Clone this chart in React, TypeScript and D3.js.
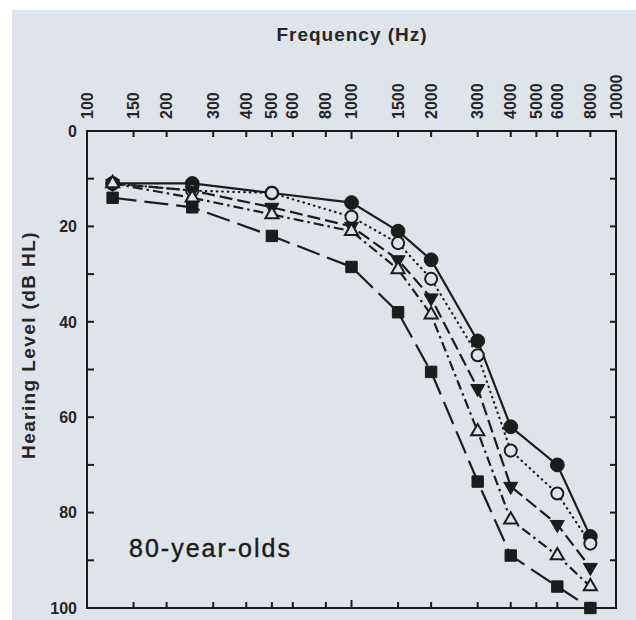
import { useEffect, useRef } from "react";
import * as d3 from "d3";

// audiogram, 80-year-olds, five groups
const frequencies = [125, 250, 500, 1000, 1500, 2000, 3000, 4000, 6000, 8000];
const filledCircle = [11, 11, 13, 15, 21, 27, 44, 62, 70, 85];
const openCircle = [11, 12.5, 13, 18, 23.5, 31, 47, 67, 76, 86.5];
const filledTriangle = [11, 12.5, 16, 20, 27, 35, 54, 74.5, 82.5, 91.5];
const openTriangle = [11, 14, 17.5, 21, 29, 38.5, 63, 81.5, 89, 95.5];
const filledSquare = [14, 16, 22, 28.5, 38, 50.5, 73.5, 89, 95.5, 100];

const freqTicks = [100, 150, 200, 300, 400, 500, 600, 800, 1000, 1500, 2000, 3000, 4000, 5000, 6000, 8000, 10000];
const levelLabels = [0, 20, 40, 60, 80, 100];
const levelTicks = [10, 20, 30, 40, 50, 60, 70, 80, 90];

const PAPER = "#dfe3ea";
const INK = "#1c1c1c";
const TEXT = "#262626";
const FONT = "'Liberation Sans', Arial, sans-serif";

const Audiogram = () => {
  const ref = useRef<SVGSVGElement>(null);

  useEffect(() => {
    const width = 636;
    const height = 620;
    const svg = d3.select(ref.current);
    svg.selectAll("*").remove();

    const x = d3.scaleLog().domain([100, 10000]).range([87, 616]);
    const y = d3.scaleLinear().domain([0, 100]).range([131, 608]);

    // scanned page
    svg.append("rect").attr("width", width).attr("height", height).attr("fill", "#ffffff");
    svg.append("rect")
      .attr("x", 12).attr("y", 10)
      .attr("width", width - 12).attr("height", height - 10)
      .attr("fill", PAPER);

    svg.append("text")
      .attr("x", 352).attr("y", 41)
      .attr("text-anchor", "middle")
      .attr("font-family", FONT)
      .attr("font-weight", "bold")
      .attr("font-size", 19)
      .attr("letter-spacing", 1)
      .attr("fill", TEXT)
      .text("Frequency (Hz)");

    svg.append("text")
      .attr("transform", "translate(35,345) rotate(-90)")
      .attr("text-anchor", "middle")
      .attr("font-family", FONT)
      .attr("font-weight", "bold")
      .attr("font-size", 19)
      .attr("letter-spacing", 1.4)
      .attr("fill", TEXT)
      .text("Hearing Level (dB HL)");

    // top frequency labels, rotated
    const topLabels = svg.append("g")
      .attr("font-family", FONT)
      .attr("font-weight", "bold")
      .attr("font-size", 16)
      .attr("fill", TEXT);
    freqTicks.forEach((f) => {
      topLabels.append("text")
        .attr("transform", `translate(${x(f) + 5.5},119) rotate(-90)`)
        .text(String(f));
    });

    svg.append("g")
      .attr("font-family", FONT)
      .attr("font-weight", "bold")
      .attr("font-size", 16)
      .attr("fill", TEXT)
      .attr("text-anchor", "end")
      .selectAll("text")
      .data(levelLabels)
      .join("text")
      .attr("x", 77)
      .attr("y", (d) => y(d))
      .attr("dy", "0.36em")
      .text((d) => d);

    // frame + inward ticks
    const frame = svg.append("g").attr("stroke", INK).attr("stroke-width", 2).attr("fill", "none");
    frame.append("rect")
      .attr("x", x(100)).attr("y", y(0))
      .attr("width", x(10000) - x(100)).attr("height", y(100) - y(0));

    const inner = freqTicks.filter((d) => d !== 100 && d !== 10000);
    frame.append("g").selectAll("line")
      .data(inner)
      .join("line")
      .attr("x1", (d) => x(d)).attr("x2", (d) => x(d))
      .attr("y1", y(0)).attr("y2", (d) => y(0) + (d === 1000 ? 8 : 6));
    frame.append("g").selectAll("line")
      .data(inner)
      .join("line")
      .attr("x1", (d) => x(d)).attr("x2", (d) => x(d))
      .attr("y1", y(100)).attr("y2", (d) => y(100) - (d === 1000 ? 8 : 6));
    frame.append("g").selectAll("line")
      .data(levelTicks)
      .join("line")
      .attr("x1", x(100)).attr("x2", x(100) + 7)
      .attr("y1", (d) => y(d)).attr("y2", (d) => y(d));
    frame.append("g").selectAll("line")
      .data(levelTicks)
      .join("line")
      .attr("x1", x(10000)).attr("x2", x(10000) - 6)
      .attr("y1", (d) => y(d)).attr("y2", (d) => y(d));

    svg.append("text")
      .attr("x", 129).attr("y", 557)
      .attr("font-family", FONT)
      .attr("font-size", 25)
      .attr("letter-spacing", 2)
      .attr("fill", "#1a1a1a")
      .attr("stroke", "#1a1a1a")
      .attr("stroke-width", 0.4)
      .text("80-year-olds");

    const series = [
      { values: filledCircle, symbol: d3.symbolCircle, size: 150, filled: true, dash: null, cap: "butt", rot: 0 },
      { values: openCircle, symbol: d3.symbolCircle, size: 115, filled: false, dash: "0.5 5", cap: "round", rot: 0 },
      { values: filledTriangle, symbol: d3.symbolTriangle, size: 85, filled: true, dash: "13 5", cap: "butt", rot: 180 },
      { values: openTriangle, symbol: d3.symbolTriangle, size: 75, filled: false, dash: "10 4 2.5 4", cap: "butt", rot: 0 },
      { values: filledSquare, symbol: d3.symbolSquare, size: 130, filled: true, dash: "24 8", cap: "butt", rot: 0 },
    ];

    const line = d3.line<number>()
      .x((_, i) => x(frequencies[i]))
      .y((d) => y(d));

    svg.append("g")
      .attr("fill", "none")
      .attr("stroke", INK)
      .attr("stroke-width", 2.2)
      .selectAll("path")
      .data(series)
      .join("path")
      .attr("stroke-dasharray", (s) => s.dash)
      .attr("stroke-linecap", (s) => s.cap)
      .attr("d", (s) => line(s.values));

    series.forEach((s) => {
      const sym = d3.symbol().type(s.symbol).size(s.size);
      svg.append("g")
        .selectAll("path")
        .data(s.values)
        .join("path")
        .attr("transform", (d, i) => `translate(${x(frequencies[i])},${y(d)}) rotate(${s.rot})`)
        .attr("d", sym)
        .attr("fill", s.filled ? INK : PAPER)
        .attr("stroke", INK)
        .attr("stroke-width", s.filled ? 1 : 2);
    });
  }, []);

  return <svg ref={ref} width={636} height={620} style={{ display: "block" }}></svg>;
};

export default function App() {
  return (
    <div style={{ position: "absolute", left: 0, top: 0 }}>
      <Audiogram />
    </div>
  );
}
